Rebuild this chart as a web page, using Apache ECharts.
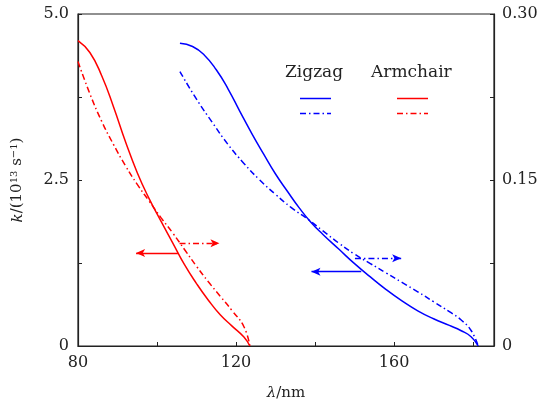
<!DOCTYPE html>
<html>
<head>
<meta charset="utf-8">
<script src="https://cdn.jsdelivr.net/npm/echarts@6/dist/echarts.min.js"></script>
<style>
  html, body { margin: 0; padding: 0; background: #fff; }
  #chart { width: 553px; height: 402px; }
</style>
</head>
<body>
<div id="chart"></div>
<script>
// Wavelength (nm) and rate values for each edge type
const armchairSolidX = [80, 83, 86, 89, 92, 95, 98, 101, 104, 107, 110, 113, 116, 119, 122, 123.5];
const armchairSolidY = [4.60, 4.42, 4.07, 3.60, 3.08, 2.61, 2.22, 1.88, 1.55, 1.22, 0.94, 0.69, 0.47, 0.30, 0.135, 0.0];

const armchairDashX = [80, 83, 86, 89, 92, 95, 98, 101, 104, 107, 110, 113, 116, 119, 122, 123.5];
const armchairDashY = [0.257, 0.228, 0.203, 0.182, 0.163, 0.146, 0.131, 0.116, 0.102, 0.087, 0.072, 0.058, 0.045, 0.032, 0.0174, 0.0];

const zigzagSolidX = [105.8, 109, 112, 115, 118, 121, 124, 127, 130, 133, 136, 139, 142, 146, 150, 154, 158, 162, 166, 170, 174, 177, 179.5, 181.3];
const zigzagSolidY = [4.56, 4.51, 4.38, 4.16, 3.87, 3.53, 3.20, 2.89, 2.59, 2.33, 2.08, 1.86, 1.68, 1.46, 1.24, 1.04, 0.85, 0.68, 0.53, 0.41, 0.31, 0.23, 0.14, 0.0];

const zigzagDashX = [105.8, 110, 114, 118, 122, 126, 130, 134, 138, 142, 146, 150, 154, 158, 162, 166, 170, 174, 177, 179.5, 181.3];
const zigzagDashY = [0.248, 0.223, 0.202, 0.182, 0.165, 0.150, 0.137, 0.125, 0.115, 0.104, 0.093, 0.083, 0.0745, 0.066, 0.0575, 0.049, 0.040, 0.031, 0.0235, 0.014, 0.0];

// Arrow indicators: [y, xStart, xEnd]
const armchairSolidArrow = [1.40, 105.3, 94.7];
const armchairDashArrow = [0.0928, 105.7, 115.8];
const zigzagSolidArrow = [1.12, 151.7, 139.1];
const zigzagDashArrow = [0.0792, 150.1, 161.8];

// Tick labels
const xTickLabels = { 80: '80', 120: '120', 160: '160' };
const leftTickLabels = { 0: '0', 2.5: '2.5', 5: '5.0' };
const rightTickLabels = { 0: '0', 0.15: '0.15', 0.3: '0.30' };

const RED = '#ff0000';
const BLUE = '#0000ff';
const DASHDOT = [6, 3, 1.5, 3];
const FONT = 'DejaVu Serif';

function zip(xs, ys) { return xs.map((x, i) => [x, ys[i]]); }
function labelFrom(map) {
  return function (v) {
    const key = Object.keys(map).find(k => Math.abs(parseFloat(k) - v) < 1e-6);
    return key !== undefined ? map[key] : '';
  };
}
function arrow(a, type) {
  return {
    silent: true,
    animation: false,
    symbol: ['none', 'arrow'],
    symbolSize: [6, 9],
    label: { show: false },
    lineStyle: { type: type, width: 1.3 },
    data: [[{ coord: [a[1], a[0]] }, { coord: [a[2], a[0]] }]]
  };
}
function curve(name, axis, xs, ys, color, type, arrowData) {
  return {
    name: name, type: 'line', yAxisIndex: axis, showSymbol: false,
    smooth: 0.5,
    data: zip(xs, ys),
    lineStyle: { color: color, width: 1.5, type: type }, itemStyle: { color: color },
    markLine: arrow(arrowData, type)
  };
}

const chart = echarts.init(document.getElementById('chart'), null, { renderer: 'canvas' });

const tickStyle = { color: '#222', fontFamily: FONT, fontSize: 16 };

chart.setOption({
  animation: false,
  backgroundColor: '#fff',
  grid: {
    left: 78, right: 59, top: 14, bottom: 56,
    containLabel: false, outerBoundsMode: 'none',
    show: true, borderColor: '#222', borderWidth: 1.2, backgroundColor: 'transparent'
  },
  xAxis: {
    type: 'value', min: 80, max: 185.3, interval: 20,
    name: '{i|λ}/nm', nameLocation: 'middle', nameGap: 40,
    nameTextStyle: { fontFamily: FONT, fontSize: 15, color: '#222', rich: { i: { fontStyle: 'italic', fontFamily: FONT, fontSize: 15 } } },
    axisLine: { lineStyle: { color: '#222', width: 1.2 } },
    axisTick: { inside: true, length: 4, lineStyle: { color: '#222' } },
    axisLabel: Object.assign({ margin: 9, showMaxLabel: false, formatter: labelFrom(xTickLabels) }, tickStyle),
    splitLine: { show: false }
  },
  yAxis: [
    {
      type: 'value', min: 0, max: 5, interval: 1.25, position: 'left',
      name: '{i|k}/(10{sup|13} s{sup|−1})', nameLocation: 'middle', nameGap: 52,
      nameTextStyle: {
        fontFamily: FONT, fontSize: 15, color: '#222', verticalAlign: 'bottom',
        rich: {
          i: { fontStyle: 'italic', fontFamily: FONT, fontSize: 15, verticalAlign: 'bottom' },
          sup: { fontFamily: FONT, fontSize: 10, verticalAlign: 'bottom', padding: [0, 0, 7, 0] }
        }
      },
      axisLine: { show: true, lineStyle: { color: '#222', width: 1.2 } },
      axisTick: { show: true, inside: true, length: 4, lineStyle: { color: '#222' } },
      axisLabel: Object.assign({ margin: 9, formatter: labelFrom(leftTickLabels) }, tickStyle),
      splitLine: { show: false }
    },
    {
      type: 'value', min: 0, max: 0.3, interval: 0.075, position: 'right',
      axisLine: { show: true, lineStyle: { color: '#222', width: 1.2 } },
      axisTick: { show: true, inside: true, length: 4, lineStyle: { color: '#222' } },
      axisLabel: Object.assign({ margin: 8, formatter: labelFrom(rightTickLabels) }, tickStyle),
      splitLine: { show: false }
    }
  ],
  series: [
    curve('Armchair k', 0, armchairSolidX, armchairSolidY, RED, 'solid', armchairSolidArrow),
    curve('Armchair right', 1, armchairDashX, armchairDashY, RED, DASHDOT, armchairDashArrow),
    curve('Zigzag k', 0, zigzagSolidX, zigzagSolidY, BLUE, 'solid', zigzagSolidArrow),
    curve('Zigzag right', 1, zigzagDashX, zigzagDashY, BLUE, DASHDOT, zigzagDashArrow)
  ],
  graphic: [
    { type: 'text', left: 285, top: 64, style: { text: 'Zigzag', fontFamily: FONT, fontSize: 17, fill: '#222' } },
    { type: 'text', left: 371, top: 64, style: { text: 'Armchair', fontFamily: FONT, fontSize: 17, fill: '#222' } },
    { type: 'line', shape: { x1: 300, y1: 98.5, x2: 331, y2: 98.5 }, style: { stroke: BLUE, lineWidth: 1.5 } },
    { type: 'line', shape: { x1: 300, y1: 113.5, x2: 331, y2: 113.5 }, style: { stroke: BLUE, lineWidth: 1.5, lineDash: DASHDOT } },
    { type: 'line', shape: { x1: 397, y1: 98.5, x2: 428, y2: 98.5 }, style: { stroke: RED, lineWidth: 1.5 } },
    { type: 'line', shape: { x1: 397, y1: 113.5, x2: 428, y2: 113.5 }, style: { stroke: RED, lineWidth: 1.5, lineDash: DASHDOT } }
  ]
});
</script>
</body>
</html>
